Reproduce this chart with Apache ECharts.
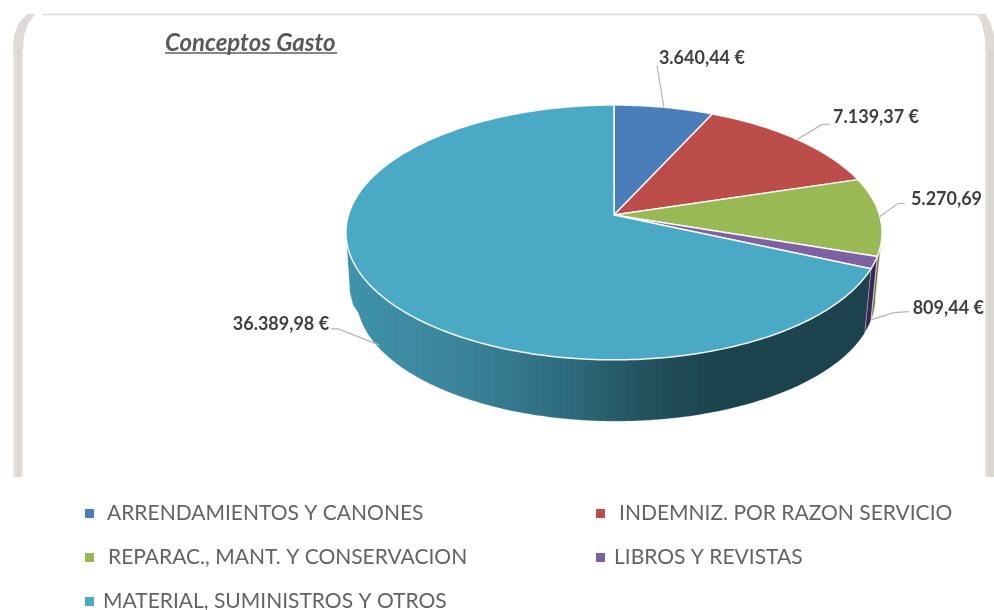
<!DOCTYPE html>
<html>
<head>
<meta charset="utf-8">
<style>
html,body{margin:0;padding:0;background:#fff;}
#main{width:994px;height:610px;filter:blur(0.5px);}
</style>
<script src="https://cdn.jsdelivr.net/npm/echarts@6/dist/echarts.min.js"></script>
</head>
<body>
<div id="main"></div>
<script>
const titleText = 'Conceptos Gasto';
const categories = ['ARRENDAMIENTOS Y CANONES','INDEMNIZ. POR RAZON SERVICIO','REPARAC., MANT. Y CONSERVACION','LIBROS Y REVISTAS','MATERIAL, SUMINISTROS Y OTROS'];
const values = [3640.44, 7139.37, 5270.69, 809.44, 36389.98];
const colors = ['#4a7ebb','#bd4d4a','#98b954','#7f60a3','#4aa9c4'];
const wallColors = [null, null, '#6f8240', '#3a2459', null];

const total = values.reduce((a,b)=>a+b,0);
const fmt = v => { const [i,d] = v.toFixed(2).split('.'); return i.replace(/\B(?=(\d{3})+$)/g,'.')+','+d+' €'; };

// perspective geometry of the disc
const G = {cx:614, cy:215, a:265.5, b:125, k:0.137, depth:66, shrink:0.968, shift:2, wallFrom:98, wallTo:262, lowerTo:255, corner:[[2,30],[4,60],[7,72]]};
function project(deg, level){
  const t = deg*Math.PI/180, x = Math.sin(t), y = -Math.cos(t), d = 1 - G.k*y;
  const s = level ? G.shrink : 1;
  return [G.cx + (level ? G.shift : 0) + G.a*s*x/d, G.cy + (level ? G.depth : 0) + G.b*s*y/d];
}
function arc(from,to,level){
  const pts=[], n=Math.max(2,Math.ceil(Math.abs(to-from)));
  for(let i=0;i<=n;i++) pts.push(project(from+(to-from)*i/n,level));
  return pts;
}
// leader line and label placement, relative to each slice's mid-angle anchor
const labelLayout = [
  {along:0,   leader:[[0,0],[-7,-42]],                text:[-5,-49],  align:'left'},
  {along:0,   leader:[[0,0],[25,-15],[33,-15]],       text:[36,-22],  align:'left'},
  {along:0,   leader:[[0,0],[18,-13],[25,-13]],       text:[31,-17],  align:'left'},
  {along:0.9, leader:[[3,-1],[25,-8],[40,-9]],        text:[44,-13],  align:'left'},
  {along:0.9, leader:[[-3,-1],[-44,-17],[-51,-17]],   text:[-53,-22], align:'right'}
];
const wallGradient = {type:'linear',global:true,x:346,y:0,x2:882,y2:0,colorStops:[
  {offset:0,color:'#3f93ac'},{offset:0.22,color:'#3b8399'},{offset:0.4,color:'#2f6d80'},
  {offset:0.55,color:'#24535f'},{offset:0.68,color:'#1c444f'},{offset:1,color:'#1b424d'}]};

function renderSlice(params, api){
  const i = params.seriesIndex, v = api.value(0);
  let before = 0; for(let j=0;j<i;j++) before += values[j];
  const a0 = before/total*360, a1 = (before+v)/total*360, mid=(a0+a1)/2;
  const children = [];
  const w0 = Math.max(a0,G.wallFrom), w1 = Math.min(a1,G.wallTo);
  if(w1>w0){
    let pts;
    if(a1>G.wallTo-1){
      const T = project(w1,0);
      pts = arc(w0,w1,0).concat(G.corner.map(o=>[T[0]+o[0],T[1]+o[1]])).concat(arc(G.lowerTo,w0,1));
    } else {
      pts = arc(w0,w1,0).concat(arc(w1,w0,1));
    }
    children.push({type:'polygon',z2:1,shape:{points:pts},
      style:{fill: wallColors[i] || wallGradient, stroke: wallColors[i] ? 'rgba(235,235,235,0.75)' : 'rgba(255,255,255,0.25)', lineWidth: wallColors[i] ? 0.8 : 0.6}});
  }
  const top = [[G.cx,G.cy]].concat(arc(a0,a1,0));
  children.push({type:'polygon',z2:10,shape:{points:top},
    style:{fill:api.visual('color'),stroke:'rgba(255,255,255,0.9)',lineWidth:1.5,lineJoin:'round'}});
  const L = labelLayout[i], T = project(mid,0), B = project(mid,1);
  const anchor = [T[0]+(B[0]-T[0])*L.along, T[1]+(B[1]-T[1])*L.along];
  children.push({type:'polyline',z2:12,shape:{points:L.leader.map(o=>[anchor[0]+o[0],anchor[1]+o[1]])},
    style:{fill:null,stroke:'#b5b5b5',lineWidth:1.2}});
  children.push({type:'text',z2:20,x:anchor[0]+L.text[0],y:anchor[1]+L.text[1],
    style:{text:fmt(v),fill:'#404040',font:'bold 18px Lato',align:L.align,verticalAlign:'middle'}});
  return {type:'group',children};
}

// card frame, cut off at the bottom and covering whatever reaches the right edge
const band = (x,w,c0,c1,c2)=>({type:'rect',z:50,shape:{x:x,y:50,width:w,height:427},
  style:{fill:{type:'linear',x:0,y:0,x2:1,y2:0,colorStops:[{offset:0,color:c0},{offset:0.55,color:c1},{offset:1,color:c2}]}}});
const graphics = [
  band(13,10,'#ece9e6','#d6d3ce','#e8e6e3'),
  band(985,9,'#e6e4e1','#d6d3ce','#dcd9d5'),
  {type:'polygon',z:50,shape:{points:[[13,50],[14,36],[18,24],[27,14],[35,14],[28,24],[24,36],[23,50]]},style:{fill:'#dedbd7'}},
  {type:'polygon',z:50,shape:{points:[[977,14],[985,14],[990,22],[994,34],[994,50],[985,50],[985,38],[982,24]]},style:{fill:'#dedbd7'}},
  {type:'line',z:50,shape:{x1:43,y1:14.5,x2:978,y2:14.5},style:{stroke:'#dcdcdc',lineWidth:1.5}},
  {type:'line',z:50,shape:{x1:165,y1:53,x2:337,y2:53},style:{stroke:'#5f5f5f',lineWidth:1.5}}
];

const legendPlacement = [
  {left:85, top:503, gap:8},
  {left:596,top:503, gap:9},
  {left:85, top:547, gap:9},
  {left:596,top:547, gap:4},
  {left:85, top:591, gap:4}
];
const legends = categories.map((name,i)=>({
  data:[name], left:legendPlacement[i].left, top:legendPlacement[i].top, padding:0,
  itemWidth:9, itemHeight:9, icon:'rect', selectedMode:false,
  textStyle:{fontFamily:'Lato',fontSize:21,color:'#636363',padding:[0,0,0,legendPlacement[i].gap]}
}));

const chart = echarts.init(document.getElementById('main'),null,{renderer:'canvas'});
chart.setOption({
  animation:false,
  backgroundColor:'#ffffff',
  title:{text:titleText,left:165,top:31,padding:0,textStyle:{fontFamily:'Lato',fontStyle:'italic',fontWeight:'bold',fontSize:24,color:'#595959'}},
  legend:legends,
  tooltip:{show:false},
  graphic:graphics,
  series:categories.map((name,i)=>({
    type:'custom',name:name,coordinateSystem:'none',silent:true,
    itemStyle:{color:colors[i]},
    renderItem:renderSlice,
    data:[[values[i]]]
  }))
});
</script>
</body>
</html>
